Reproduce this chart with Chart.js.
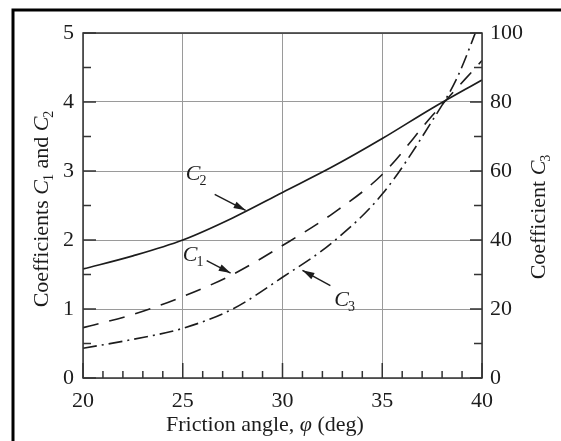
<!DOCTYPE html>
<html>
<head>
<meta charset="utf-8">
<script src="https://cdn.jsdelivr.net/npm/chart.js@4/dist/chart.umd.min.js"></script>
<style>
  html, body { margin: 0; padding: 0; background: #fff; }
  #wrap { position: relative; width: 561px; height: 441px; }
</style>
</head>
<body>
<div id="wrap"><canvas id="c" width="561" height="441"></canvas></div>
<script>
// ---------- data ----------
const PHI = [20, 22.5, 25, 27.5, 30, 32.5, 35, 37.5, 40];
const C1 = [0.73, 0.92, 1.18, 1.50, 1.92, 2.38, 2.95, 3.80, 4.60];
const C2 = [1.58, 1.77, 2.00, 2.32, 2.69, 3.06, 3.47, 3.91, 4.32];
const PHI3 = [20, 22.5, 25, 27.5, 30, 32.5, 35, 37.5, 38.75, 40];
const C3 = [8.6, 11.2, 14.4, 20, 29.2, 39.3, 53.3, 74.5, 87, 105];

const X_TICKS = [20, 25, 30, 35, 40];
const Y_TICKS = [0, 1, 2, 3, 4, 5];
const Y2_TICKS = [0, 20, 40, 60, 80, 100];

// curve labels: subscript, text position (phi, left-axis value), arrow from -> to
const LABELS = [
  { sub: '2', x: 25.15, y: 2.87, from: [26.6, 2.66], to: [28.15, 2.43] },
  { sub: '1', x: 25.0, y: 1.70, from: [26.2, 1.70], to: [27.4, 1.52] },
  { sub: '3', x: 32.6, y: 1.05, from: [32.4, 1.34], to: [31.0, 1.56] },
];

const INK = '#1c1c1c';
const SERIF = '"Liberation Serif", "DejaVu Serif", serif';
const pts = (xs, ys) => xs.map((x, i) => ({ x, y: ys[i] }));

// ---------- extra drawing: frame, inward ticks, titles, curve labels ----------
const decor = {
  id: 'decor',
  beforeDraw(chart) {
    const ctx = chart.ctx;
    ctx.save();
    ctx.fillStyle = '#fff';
    ctx.fillRect(0, 0, chart.width, chart.height);
    ctx.restore();
  },
  afterDraw(chart) {
    const ctx = chart.ctx, a = chart.chartArea;
    const sx = chart.scales.x, sy = chart.scales.y, sy2 = chart.scales.y2;
    ctx.save();

    // outer page frame (top + left)
    ctx.strokeStyle = '#000'; ctx.lineWidth = 3;
    ctx.beginPath(); ctx.moveTo(13, 441); ctx.lineTo(13, 10); ctx.lineTo(561, 10); ctx.stroke();

    // plot box
    ctx.strokeStyle = '#333'; ctx.lineWidth = 1.5;
    ctx.strokeRect(a.left, a.top, a.right - a.left, a.bottom - a.top);

    // inward ticks
    ctx.strokeStyle = '#333';
    ctx.beginPath();
    for (let v = 20; v <= 40; v++) {
      const px = sx.getPixelForValue(v), len = v % 5 === 0 ? 15 : 7;
      ctx.moveTo(px, a.bottom); ctx.lineTo(px, a.bottom - len);
    }
    for (let v = 0; v <= 5; v += 0.5) {
      const py = sy.getPixelForValue(v), len = Number.isInteger(v) ? 13 : 8;
      ctx.moveTo(a.left, py); ctx.lineTo(a.left + len, py);
    }
    for (let v = 0; v <= 100; v += 10) {
      const py = sy2.getPixelForValue(v), len = v % 20 === 0 ? 12 : 8;
      ctx.moveTo(a.right, py); ctx.lineTo(a.right - len, py);
    }
    ctx.stroke();

    // text helper: italic C + subscript
    ctx.fillStyle = INK;
    function cSub(x, y, sub) {
      ctx.font = 'italic 22px ' + SERIF;
      ctx.textAlign = 'left'; ctx.textBaseline = 'alphabetic';
      ctx.fillText('C', x, y);
      const w = ctx.measureText('C').width;
      ctx.font = '14px ' + SERIF;
      ctx.fillText(sub, x + w - 1, y + 5);
      return w - 1 + ctx.measureText(sub).width;
    }
    function run(parts, x, y) {
      let cx = x;
      parts.forEach((p) => {
        if (p.sub) { cx += cSub(cx, y, p.sub); }
        else {
          ctx.font = (p.italic ? 'italic ' : '') + '22px ' + SERIF;
          ctx.textAlign = 'left'; ctx.textBaseline = 'alphabetic';
          ctx.fillText(p.t, cx, y);
          cx += ctx.measureText(p.t).width;
        }
      });
      return cx - x;
    }
    function measure(parts) {
      ctx.save(); ctx.globalAlpha = 0;
      const w = run(parts, 0, -1000); ctx.restore(); return w;
    }

    // x title
    const xt = [{ t: 'Friction angle, ' }, { t: 'φ', italic: true }, { t: ' (deg)' }];
    run(xt, 265 - measure(xt) / 2, 431);

    // left title
    const lt = [{ t: 'Coefficients ' }, { sub: '1' }, { t: ' and ' }, { sub: '2' }];
    ctx.save(); ctx.translate(48, 209); ctx.rotate(-Math.PI / 2);
    run(lt, -measure(lt) / 2, 0); ctx.restore();

    // right title
    const rt = [{ t: 'Coefficient ' }, { sub: '3' }];
    ctx.save(); ctx.translate(545, 217); ctx.rotate(-Math.PI / 2);
    run(rt, -measure(rt) / 2, 0); ctx.restore();

    // curve labels with arrows
    LABELS.forEach((l) => {
      cSub(sx.getPixelForValue(l.x), sy.getPixelForValue(l.y), l.sub);
      const x0 = sx.getPixelForValue(l.from[0]), y0 = sy.getPixelForValue(l.from[1]);
      const x1 = sx.getPixelForValue(l.to[0]), y1 = sy.getPixelForValue(l.to[1]);
      ctx.strokeStyle = INK; ctx.lineWidth = 1.4;
      ctx.beginPath(); ctx.moveTo(x0, y0); ctx.lineTo(x1, y1); ctx.stroke();
      const ang = Math.atan2(y1 - y0, x1 - x0), L = 12, W = 3.5;
      ctx.beginPath();
      ctx.moveTo(x1, y1);
      ctx.lineTo(x1 - L * Math.cos(ang) + W * Math.sin(ang), y1 - L * Math.sin(ang) - W * Math.cos(ang));
      ctx.lineTo(x1 - L * Math.cos(ang) - W * Math.sin(ang), y1 - L * Math.sin(ang) + W * Math.cos(ang));
      ctx.closePath(); ctx.fill();
    });

    ctx.restore();
  },
};

const tickFont = { family: SERIF, size: 22 };

new Chart(document.getElementById('c'), {
  type: 'line',
  data: {
    datasets: [
      { label: 'C2', data: pts(PHI, C2), yAxisID: 'y', borderColor: INK, borderWidth: 1.7, pointRadius: 0, cubicInterpolationMode: 'monotone', fill: false },
      { label: 'C1', data: pts(PHI, C1), yAxisID: 'y', borderColor: INK, borderWidth: 1.6, borderDash: [16, 11], pointRadius: 0, cubicInterpolationMode: 'monotone', fill: false },
      { label: 'C3', data: pts(PHI3, C3), yAxisID: 'y2', borderColor: INK, borderWidth: 1.6, borderDash: [14, 5, 2, 5], pointRadius: 0, cubicInterpolationMode: 'monotone', fill: false },
    ],
  },
  options: {
    responsive: false, animation: false, events: [],
    layout: { padding: { top: 33, left: 0, right: 0, bottom: 0 } },
    plugins: { legend: { display: false }, tooltip: { enabled: false } },
    scales: {
      x: {
        type: 'linear', min: 20, max: 40,
        afterBuildTicks: (s) => { s.ticks = X_TICKS.map((v) => ({ value: v })); },
        afterFit: (s) => { s.height = 63; },
        grid: { color: '#9a9a9a', lineWidth: 1, drawTicks: false },
        border: { display: false },
        ticks: { color: INK, font: tickFont, padding: 10, maxRotation: 0 },
      },
      y: {
        type: 'linear', position: 'left', min: 0, max: 5,
        afterBuildTicks: (s) => { s.ticks = Y_TICKS.map((v) => ({ value: v })); },
        afterFit: (s) => { s.width = 83; },
        grid: { color: '#9a9a9a', lineWidth: 1, drawTicks: false },
        border: { display: false },
        ticks: { color: INK, font: tickFont, padding: 9 },
      },
      y2: {
        type: 'linear', position: 'right', min: 0, max: 100,
        afterBuildTicks: (s) => { s.ticks = Y2_TICKS.map((v) => ({ value: v })); },
        afterFit: (s) => { s.width = 79; },
        grid: { display: false, drawTicks: false },
        border: { display: false },
        ticks: { color: INK, font: tickFont, padding: 8 },
      },
    },
  },
  plugins: [decor],
});
</script>
</body>
</html>
